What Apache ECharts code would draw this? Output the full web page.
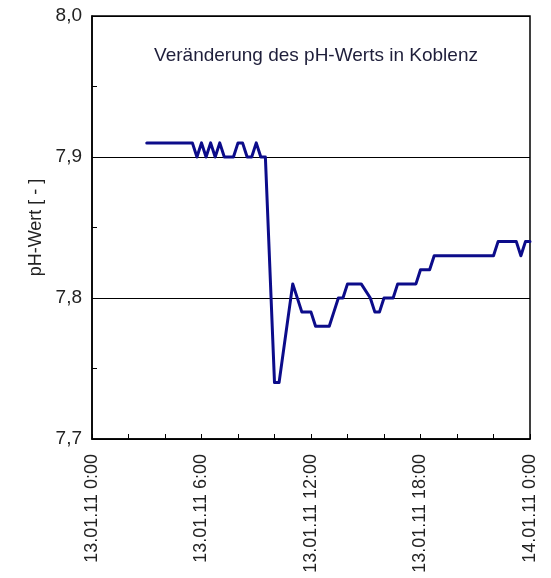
<!DOCTYPE html>
<html>
<head>
<meta charset="utf-8">
<script src="https://cdn.jsdelivr.net/npm/echarts@6/dist/echarts.min.js"></script>
<style>
html,body{margin:0;padding:0;background:#fff;}
#chart{width:551px;height:578px;}
</style>
</head>
<body>
<div id="chart"></div>
<script>
const titleText = 'Veränderung des pH-Werts in Koblenz';
const yAxisName = 'pH-Wert [ - ]';
const xTickLabels = ['13.01.11 0:00', '13.01.11 6:00', '13.01.11 12:00', '13.01.11 18:00', '14.01.11 0:00'];
const hours = [3, 5.5, 5.75, 6, 6.25, 6.5, 6.75, 7, 7.25, 7.75,
  8, 8.25, 8.5, 8.75, 9, 9.25, 9.5, 10, 10.25, 11,
  11.5, 12, 12.25, 13, 13.25, 13.5, 13.75, 14, 14.75, 15.25,
  15.5, 15.75, 16, 16.5, 16.75, 17.75, 18, 18.5, 18.75, 22,
  22.25, 23.25, 23.5, 23.75, 24];
const phValues = [7.91, 7.91, 7.90, 7.91, 7.90, 7.91, 7.90, 7.91, 7.90, 7.90,
  7.91, 7.91, 7.90, 7.90, 7.91, 7.90, 7.90, 7.74, 7.74, 7.81,
  7.79, 7.79, 7.78, 7.78, 7.79, 7.80, 7.80, 7.81, 7.81, 7.80,
  7.79, 7.79, 7.80, 7.80, 7.81, 7.81, 7.82, 7.82, 7.83, 7.83,
  7.84, 7.84, 7.83, 7.84, 7.84];

const font = "'Liberation Sans', Arial, sans-serif";
const chart = echarts.init(document.getElementById('chart'), null, {renderer: 'canvas'});
chart.setOption({
  animation: false,
  backgroundColor: '#fff',
  title: {
    text: titleText,
    left: 311,
    top: 41,
    textAlign: 'center',
    textStyle: {fontFamily: font, fontSize: 19, fontWeight: 'normal', color: '#1e1e3a'}
  },
  grid: {
    left: 92, right: 21, top: 16, bottom: 139,
    show: true, borderColor: '#000', borderWidth: 1.5, containLabel: false
  },
  xAxis: {
    type: 'value',
    min: 0, max: 24, interval: 2,
    axisLine: {show: true, lineStyle: {color: '#000', width: 1.5}},
    axisTick: {show: true, inside: true, length: 5, lineStyle: {color: '#000', width: 1}},
    splitLine: {show: false},
    axisLabel: {
      rotate: 90,
      margin: 15,
      fontFamily: font, fontSize: 18, color: '#222',
      formatter: function (v) {
        if (v % 6 === 0) return xTickLabels[v / 6];
        return '';
      }
    }
  },
  yAxis: {
    type: 'value',
    min: 7.7, max: 8.0, interval: 0.1,
    name: yAxisName,
    nameLocation: 'middle',
    nameGap: 46,
    nameTextStyle: {fontFamily: font, fontSize: 18, color: '#222'},
    axisLine: {show: true, lineStyle: {color: '#000', width: 1.5}},
    axisTick: {show: true, inside: true, length: 5, lineStyle: {color: '#000'}},
    minorTick: {show: true, splitNumber: 2, length: 5, lineStyle: {color: '#000', width: 1}},
    splitLine: {show: true, lineStyle: {color: '#000', width: 1.2}},
    axisLabel: {
      margin: 10,
      fontFamily: font, fontSize: 19, color: '#222',
      formatter: function (v) { return v.toFixed(1).replace('.', ','); }
    }
  },
  series: [{
    type: 'line',
    data: hours.map(function (h, i) { return [h, phValues[i]]; }),
    showSymbol: false,
    clip: false,
    lineStyle: {color: '#0c0c8a', width: 3, join: 'round', cap: 'round'}
  }]
});
</script>
</body>
</html>
